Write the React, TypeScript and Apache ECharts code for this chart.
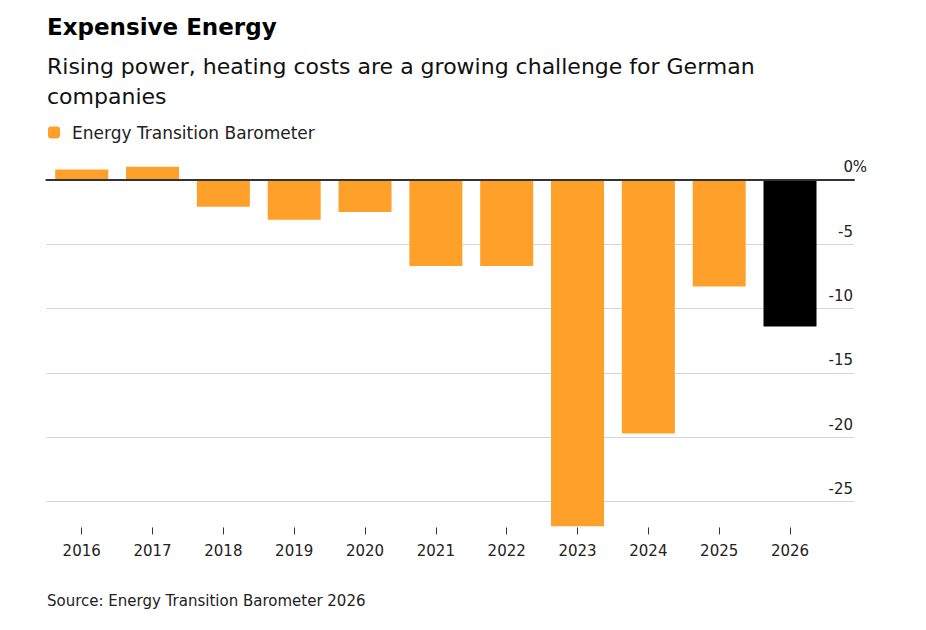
import * as echarts from "echarts"
import { useEffect, useRef } from "react"

const years = ["2016", "2017", "2018", "2019", "2020", "2021", "2022", "2023", "2024", "2025", "2026"]
const barometer = [0.8, 1.0, -2.1, -3.1, -2.5, -6.7, -6.7, -26.9, -19.7, -8.3, -11.4]
const highlightYear = "2026"
const seriesName = "Energy Transition Barometer"
const title = "Expensive Energy"
const subtitle = ["Rising power, heating costs are a growing challenge for German", "companies"]
const source = "Source: Energy Transition Barometer 2026"

const FONT = "'DejaVu Sans', sans-serif"
const ORANGE = "#ffa02b"

// pixel geometry of the plot
const ZERO_Y = 179.7
const UNIT = 12.88
const LEFT = 46.3
const CAT_W = 70.83
const LINE_RIGHT = 854
const PCT_W = 14
const BAR_MIN = -27
const BAR_MAX = 1.5
const GRID_MIN = -25

export default function App() {
  const node = useRef<HTMLDivElement>(null)

  useEffect(() => {
    document.body.style.margin = "0"
    if (!node.current) return
    const chart = echarts.init(node.current, undefined, { renderer: "svg" })
    chart.setOption({
      animation: false,
      textStyle: { fontFamily: FONT, color: "#222" },
      legend: {
        data: [seriesName],
        left: 48,
        top: 124,
        padding: 0,
        itemWidth: 12,
        itemHeight: 12,
        icon: "roundRect",
        selectedMode: false,
        textStyle: { fontSize: 17, color: "#222", fontFamily: FONT, padding: [0, 0, 0, 7] },
      },
      graphic: [
        {
          type: "text",
          left: 47,
          top: 15,
          style: { text: title, font: `bold 23px ${FONT}`, fill: "#000" },
        },
        {
          type: "text",
          left: 47,
          top: 51,
          style: { text: subtitle.join("\n"), font: `22px ${FONT}`, fill: "#111", lineHeight: 30.6 },
        },
        {
          type: "text",
          left: 47,
          top: 593,
          style: { text: source, font: `15px ${FONT}`, fill: "#222" },
        },
      ],
      grid: [
        {
          left: LEFT,
          width: CAT_W * years.length,
          top: ZERO_Y - BAR_MAX * UNIT,
          height: (BAR_MAX - BAR_MIN) * UNIT,
        },
        {
          left: LEFT,
          width: LINE_RIGHT - LEFT,
          top: ZERO_Y,
          height: -GRID_MIN * UNIT,
        },
      ],
      xAxis: [
        {
          type: "category",
          gridIndex: 0,
          data: years,
          axisLine: { show: false, onZero: false },
          axisTick: { show: true, alignWithLabel: true, length: 7, lineStyle: { color: "#333" } },
          axisLabel: { fontSize: 15, color: "#222", margin: 16, fontFamily: FONT },
        },
        {
          type: "value",
          gridIndex: 1,
          min: 0,
          max: 1,
          z: 5,
          axisLabel: { show: false },
          axisTick: { show: false },
          splitLine: { show: false },
          axisLine: { show: true, onZero: true, lineStyle: { color: "#333", width: 2 } },
        },
      ],
      yAxis: [
        {
          type: "value",
          gridIndex: 0,
          min: BAR_MIN,
          max: BAR_MAX,
          show: false,
          splitLine: { show: false },
        },
        {
          type: "value",
          gridIndex: 1,
          min: GRID_MIN,
          max: 0,
          interval: 5,
          position: "right",
          axisLine: { show: false },
          axisTick: { show: false },
          splitLine: { lineStyle: { color: "#d4d4d4", width: 1 } },
          axisLabel: {
            inside: true,
            margin: 1 - PCT_W,
            fontSize: 15,
            color: "#222",
            fontFamily: FONT,
            verticalAlign: "bottom",
            padding: [0, 0, 5, 0],
            // trailing slot of fixed width so "%" hangs past the numbers
            formatter: (v: number) => (v === 0 ? "{n|0}{p|%}" : `{n|${v}}{p| }`),
            rich: {
              n: { fontSize: 15, fontFamily: FONT, color: "#222" },
              p: { fontSize: 15, fontFamily: FONT, color: "#222", width: PCT_W },
            },
          },
        },
      ],
      series: [
        {
          name: seriesName,
          type: "bar",
          xAxisIndex: 0,
          yAxisIndex: 0,
          barWidth: 53,
          itemStyle: { color: ORANGE },
          data: barometer.map((value, i) =>
            years[i] === highlightYear ? { value, itemStyle: { color: "#000" } } : value
          ),
        },
      ],
    })
    return () => chart.dispose()
  }, [])

  return <div ref={node} style={{ width: 926, height: 630 }} />
}
